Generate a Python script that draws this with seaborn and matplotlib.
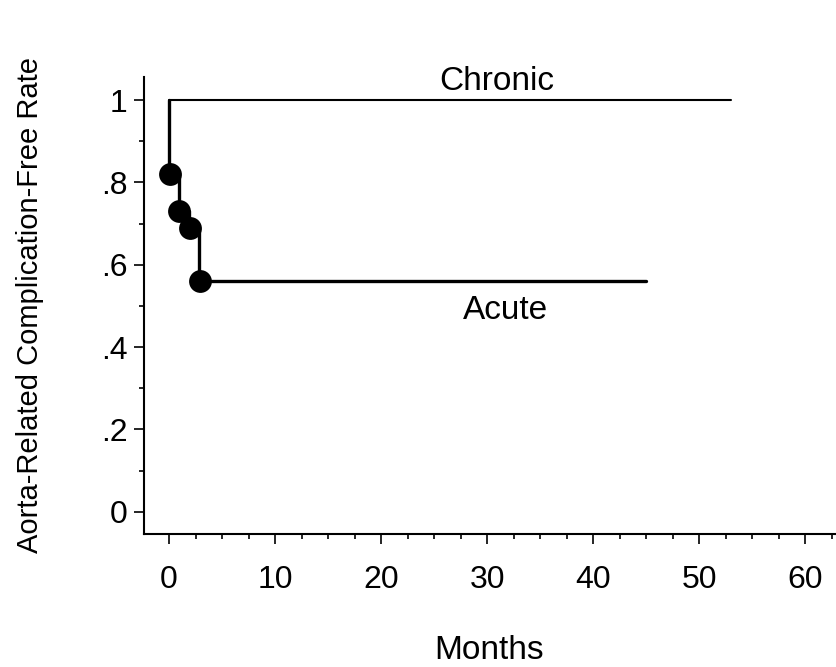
import matplotlib
matplotlib.use("Agg")
import matplotlib.pyplot as plt
from matplotlib.ticker import MultipleLocator, FixedLocator
import seaborn as sns
import pandas as pd

sns.set_theme(style="ticks")
plt.rcParams["font.family"] = ["Liberation Sans", "DejaVu Sans"]

# Kaplan-Meier style step data
chronic_months = [0, 53]
chronic_rate = [1.0, 1.0]

acute_months = [0, 0, 0.9, 1.9, 2.8, 45]
acute_rate = [1.0, 0.82, 0.73, 0.69, 0.56, 0.56]

event_months = [0.05, 0.95, 1.95, 2.9]
event_rate = [0.82, 0.73, 0.69, 0.56]

y_ticks = [0, 0.2, 0.4, 0.6, 0.8, 1.0]
y_tick_labels = ["0", ".2", ".4", ".6", ".8", "1"]
x_ticks = [0, 10, 20, 30, 40, 50, 60]

chronic = pd.DataFrame({"Months": chronic_months, "Rate": chronic_rate})
acute = pd.DataFrame({"Months": acute_months, "Rate": acute_rate})
events = pd.DataFrame({"Months": event_months, "Rate": event_rate})

fig = plt.figure(figsize=(8.37, 6.67), dpi=100)
ax = fig.add_axes([0.172, 0.1994, 0.8256, 0.6852])

sns.lineplot(data=chronic, x="Months", y="Rate", ax=ax, color="black",
             linewidth=1.5, drawstyle="steps-post", estimator=None, sort=False)
sns.lineplot(data=acute, x="Months", y="Rate", ax=ax, color="black",
             linewidth=2.4, drawstyle="steps-post", estimator=None, sort=False)
sns.scatterplot(data=events, x="Months", y="Rate", ax=ax, color="black",
                s=270, edgecolor="black", linewidth=0, zorder=5)

ax.set_xlim(-2.36, 62.8)
ax.set_ylim(-0.054, 1.056)

ax.yaxis.set_major_locator(FixedLocator(y_ticks))
ax.set_yticklabels(y_tick_labels)
ax.yaxis.set_minor_locator(MultipleLocator(0.1))
ax.xaxis.set_major_locator(FixedLocator(x_ticks))
ax.xaxis.set_minor_locator(MultipleLocator(2.5))

ax.tick_params(axis="both", which="major", length=7, width=1.2,
               labelsize=23, color="black", labelcolor="black")
ax.tick_params(axis="both", which="minor", length=3.5, width=1.2, color="black")
ax.tick_params(axis="x", which="major", pad=15)
ax.tick_params(axis="y", which="major", pad=5)

for side in ("top", "right"):
    ax.spines[side].set_visible(False)
for side in ("left", "bottom"):
    ax.spines[side].set_linewidth(1.5)
    ax.spines[side].set_color("black")

ax.set_xlabel("Months", fontsize=24, labelpad=29, color="black")
ax.set_ylabel("Aorta-Related Complication-Free Rate", fontsize=21,
              labelpad=41, color="black")

ax.text(30.9, 1.045, "Chronic", fontsize=24, ha="center", va="center", color="black")
ax.text(31.7, 0.488, "Acute", fontsize=24, ha="center", va="center", color="black")

fig.savefig("out.png", dpi=100, facecolor="white")
